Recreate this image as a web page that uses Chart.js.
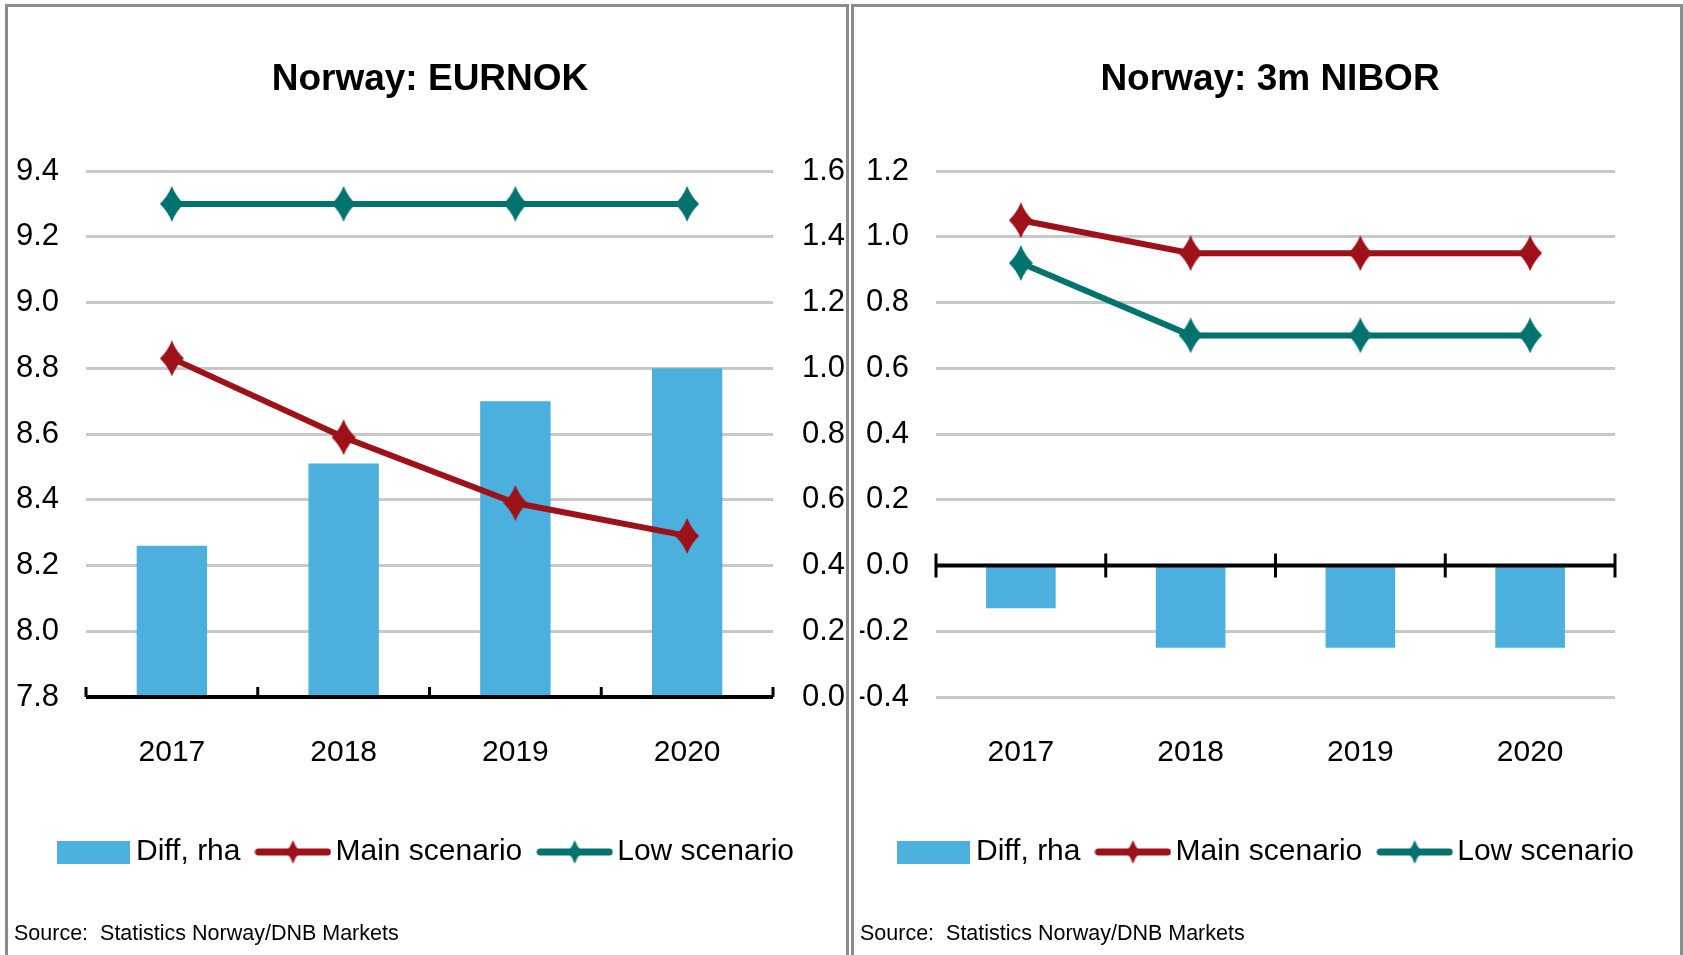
<!DOCTYPE html>
<html>
<head>
<meta charset="utf-8">
<script src="https://cdn.jsdelivr.net/npm/chart.js@4.4.1/dist/chart.umd.min.js"></script>
<style>
  html, body { margin: 0; padding: 0; background: #fff; width: 1683px; height: 955px; overflow: hidden; }
  .panel { position: absolute; top: 4px; border: 3px solid #8c8c8c; border-bottom: none; }
  #p1 { left: 5px; width: 838px; height: 948px; }
  #p2 { left: 851px; width: 826px; height: 948px; }
  canvas { display: block; }
</style>
</head>
<body>
<div class="panel" id="p1"><canvas id="eurnok" width="838" height="948"></canvas></div>
<div class="panel" id="p2"><canvas id="nibor" width="826" height="948"></canvas></div>
<script>
// data
const years = ['2017', '2018', '2019', '2020'];

const eurDiff = [0.46, 0.71, 0.90, 1.00];
const eurMain = [8.83, 8.59, 8.39, 8.29];
const eurLow = [9.30, 9.30, 9.30, 9.30];
const eurTicks = [7.8, 8.0, 8.2, 8.4, 8.6, 8.8, 9.0, 9.2, 9.4];
const diffTicks = [0.0, 0.2, 0.4, 0.6, 0.8, 1.0, 1.2, 1.4, 1.6];

const niborDiff = [-0.13, -0.25, -0.25, -0.25];
const niborMain = [1.05, 0.95, 0.95, 0.95];
const niborLow = [0.92, 0.70, 0.70, 0.70];
const niborTicks = [-0.4, -0.2, 0.0, 0.2, 0.4, 0.6, 0.8, 1.0, 1.2];

const blue = '#4bb0de';
const red = '#9e1118';
const teal = '#00736e';

Chart.defaults.font.family = "'Liberation Sans', Arial, sans-serif";
Chart.defaults.color = '#000';

// tall diamond marker like the excel one
function diamond(color, w, h) {
    const c = document.createElement('canvas');
    c.width = w; c.height = h;
    const g = c.getContext('2d');
    g.fillStyle = color;
    g.beginPath();
    g.moveTo(w / 2, 0);
    g.quadraticCurveTo(w * 0.66, h * 0.28, w, h / 2);
    g.quadraticCurveTo(w * 0.66, h * 0.72, w / 2, h);
    g.quadraticCurveTo(w * 0.34, h * 0.72, 0, h / 2);
    g.quadraticCurveTo(w * 0.34, h * 0.28, w / 2, 0);
    g.fill();
    return c;
}

function lineSample(color) {
    const c = document.createElement('canvas');
    c.width = 77; c.height = 24;
    const g = c.getContext('2d');
    g.strokeStyle = color;
    g.lineWidth = 7;
    g.lineCap = 'round';
    g.beginPath();
    g.moveTo(4, 12);
    g.lineTo(73, 12);
    g.stroke();
    g.drawImage(diamond(color, 14, 24), 31.5, 0);
    return c;
}

function boxSample(color) {
    const c = document.createElement('canvas');
    c.width = 73; c.height = 23;
    const g = c.getContext('2d');
    g.fillStyle = color;
    g.fillRect(0, 0, 73, 23);
    return c;
}

// black base line with category tick marks
const baseAxis = {
    id: 'baseAxis',
    afterDatasetsDraw(chart, args, opts) {
        const {ctx, chartArea, scales} = chart;
        const py = scales.y.getPixelForValue(opts.value);
        const n = scales.x.ticks.length;
        ctx.save();
        ctx.strokeStyle = '#000';
        ctx.lineWidth = 4;
        ctx.beginPath();
        ctx.moveTo(chartArea.left, py);
        ctx.lineTo(chartArea.right, py);
        ctx.stroke();
        ctx.lineWidth = 3;
        for (let i = 0; i <= n; i++) {
            const px = chartArea.left + i * chartArea.width / n;
            ctx.beginPath();
            ctx.moveTo(px, py - opts.up);
            ctx.lineTo(px, py + opts.down);
            ctx.stroke();
        }
        ctx.restore();
    }
};

function legendLabels(chart) {
    return chart.data.datasets.map((ds, i) => ({
        text: ds.label,
        pointStyle: ds.type === 'line' ? lineSample(ds.borderColor) : boxSample(ds.backgroundColor),
        fillStyle: ds.backgroundColor,
        strokeStyle: ds.borderColor,
        lineWidth: 0,
        hidden: false,
        datasetIndex: i
    }));
}

function yScale(ticks, width, extra) {
    return Object.assign({
        min: ticks[0],
        max: ticks[ticks.length - 1],
        afterBuildTicks: axis => { axis.ticks = ticks.map(v => ({value: v})); },
        afterFit: axis => { axis.width = width; },
        border: {display: false},
        grid: {color: '#c8c8c8', lineWidth: 3, drawTicks: false},
        ticks: {font: {size: 31}, padding: 27, callback: v => v.toFixed(1)}
    }, extra || {});
}

function makeChart(id, title, diff, main, low, barAxis, scales, axisOpts) {
    return new Chart(document.getElementById(id), {
        type: 'bar',
        data: {
            labels: years,
            datasets: [{
                label: 'Diff, rha',
                data: diff,
                backgroundColor: blue,
                borderColor: blue,
                borderWidth: 0,
                barPercentage: 0.41,
                categoryPercentage: 1,
                yAxisID: barAxis,
                order: 3
            }, {
                type: 'line',
                label: 'Main scenario',
                data: main,
                borderColor: red,
                backgroundColor: red,
                borderWidth: 6,
                pointStyle: diamond(red, 24, 36),
                pointRadius: 12,
                yAxisID: 'y',
                order: 2
            }, {
                type: 'line',
                label: 'Low scenario',
                data: low,
                borderColor: teal,
                backgroundColor: teal,
                borderWidth: 6,
                pointStyle: diamond(teal, 24, 36),
                pointRadius: 12,
                yAxisID: 'y',
                order: 1
            }]
        },
        options: {
            responsive: false,
            animation: false,
            devicePixelRatio: 1,
            layout: {padding: {left: 6, right: 0, top: 0, bottom: 0}},
            scales: Object.assign({
                x: {
                    grid: {display: false},
                    border: {display: false},
                    ticks: {font: {size: 30}, padding: 30},
                    afterFit: axis => { axis.height = 115; }
                }
            }, scales),
            plugins: {
                title: {
                    display: true,
                    text: title,
                    font: {size: 37, weight: 'bold'},
                    padding: {top: 50.8, bottom: 68.8}
                },
                subtitle: {
                    display: true,
                    text: 'Source:  Statistics Norway/DNB Markets',
                    position: 'bottom',
                    align: 'start',
                    font: {size: 21.5},
                    padding: {top: 44.1, bottom: 8.1}
                },
                legend: {
                    position: 'bottom',
                    labels: {
                        usePointStyle: true,
                        pointStyleWidth: 55,
                        padding: 25,
                        font: {size: 30},
                        generateLabels: legendLabels
                    }
                },
                tooltip: {enabled: false},
                baseAxis: axisOpts
            }
        },
        plugins: [baseAxis]
    });
}

makeChart('eurnok', 'Norway: EURNOK', eurDiff, eurMain, eurLow, 'y1', {
    y: yScale(eurTicks, 72, {position: 'left'}),
    y1: yScale(diffTicks, 73, {position: 'right', grid: {display: false, drawTicks: false}, ticks: {font: {size: 31}, padding: 29, callback: v => v.toFixed(1)}})
}, {value: 7.8, up: 10, down: 0});

// right panel: diff shares the left scale, the right side is an empty margin
makeChart('nibor', 'Norway: 3m NIBOR', niborDiff, niborMain, niborLow, 'y', {
    y: yScale(niborTicks, 76, {position: 'left'}),
    y1: yScale(niborTicks, 65, {position: 'right', grid: {display: false, drawTicks: false}, ticks: {display: false}})
}, {value: 0, up: 12, down: 12});
</script>
</body>
</html>
